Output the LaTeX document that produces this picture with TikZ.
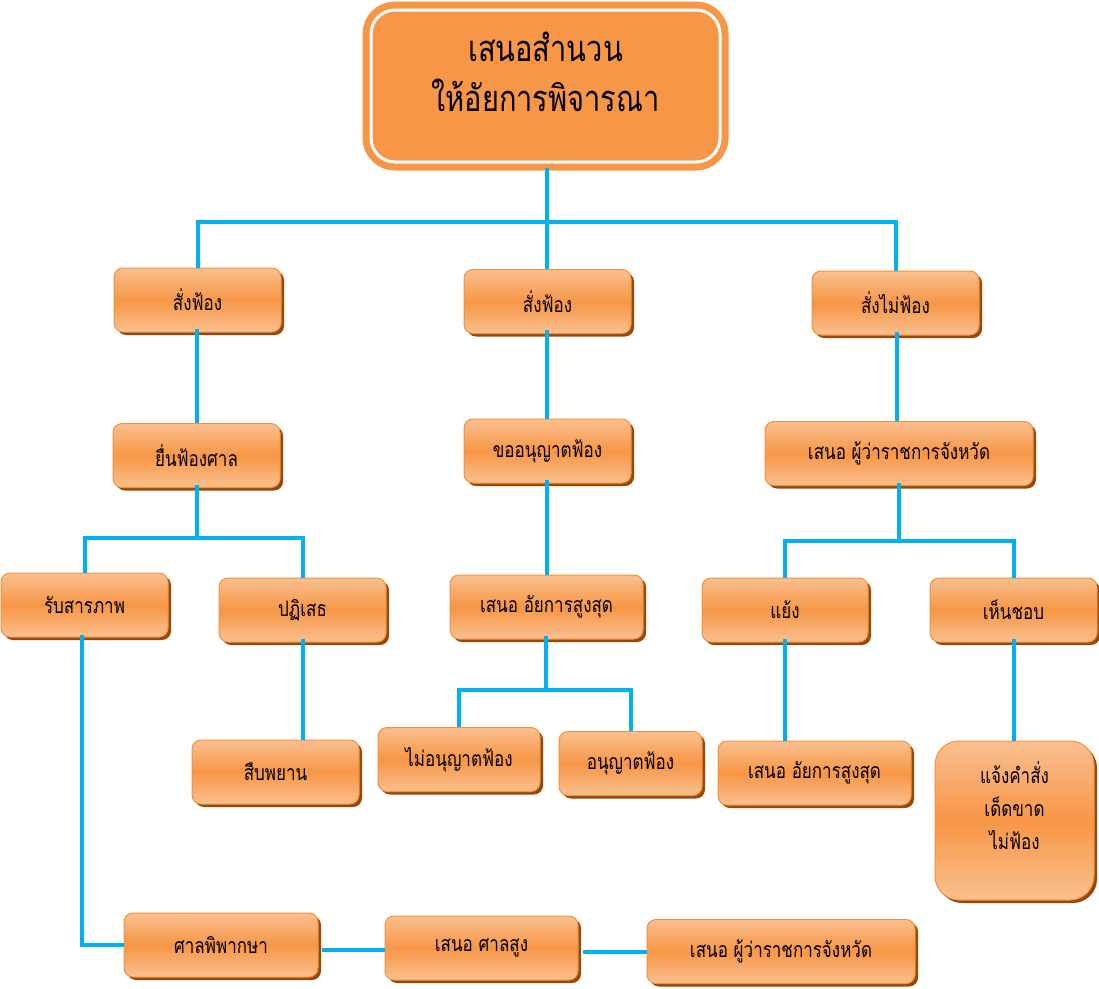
\documentclass[tikz,border=0pt]{standalone}
\usepackage{fontspec}
\setmainfont[Script=Thai]{Loma}
\usetikzlibrary{shadows,calc}
\definecolor{boxmid}{HTML}{F79646}
\definecolor{boxlight}{HTML}{FAC090}
\definecolor{boxedge}{HTML}{F0913F}
\definecolor{shadowbrown}{HTML}{984807}
\definecolor{linkblue}{HTML}{00B0F0}
\newcommand\tl[1]{\scalebox{1}[1.25]{#1}}
\begin{document}
\begin{tikzpicture}[x=1pt,y=-1pt,
  obox/.style={rectangle, rounded corners=9pt, draw=boxedge, line width=1pt,
    top color=boxlight, bottom color=boxlight, middle color=boxmid,
    drop shadow={shadow xshift=3pt, shadow yshift=-3pt, fill=shadowbrown, opacity=1},
    minimum width=#1, minimum height=64pt, inner sep=2pt, align=center,
    font=\fontsize{17}{33}\selectfont, text=black},
  obox/.default=167pt,
  link/.style={draw=linkblue, line width=4pt}]
\useasboundingbox (0,0) rectangle (1099,988);
% top node
\node[rectangle, rounded corners=24pt, draw=white, line width=3pt, fill=boxmid,
  preaction={draw=boxmid, line width=17pt},
  minimum width=349pt, minimum height=152pt, align=center, text depth=28pt,
  font=\fontsize{29}{50}\selectfont] (top) at (545.5,86) {\tl{เสนอสำนวน}\\\tl{ให้อัยการพิจารณา}};
% row 1
\node[obox] (sf1) at (197.5,300) {\tl{สั่งฟ้อง}};
\node[obox] (sf2) at (547.5,301.5) {\tl{สั่งฟ้อง}};
\node[obox] (snf) at (895.5,303) {\tl{สั่งไม่ฟ้อง}};
% row 2
\node[obox] (yfs) at (196.5,455.5) {\tl{ยื่นฟ้องศาล}};
\node[obox] (kaf) at (547.5,451) {\tl{ขออนุญาตฟ้อง}};
\node[obox=268pt] (pw1) at (899,453.5) {\tl{เสนอ ผู้ว่าราชการจังหวัด}};
% row 3
\node[obox] (rsp) at (84.5,605) {\tl{รับสารภาพ}};
\node[obox] (pts) at (302.5,610) {\tl{ปฏิเสธ}};
\node[obox=193pt] (ask1) at (546.5,607) {\tl{เสนอ อัยการสูงสุด}};
\node[obox=166pt] (yaeng) at (785,610) {\tl{แย้ง}};
\node[obox] (hcb) at (1013.5,610) {\tl{เห็นชอบ}};
% row 4
\node[obox] (sbp) at (275.5,772) {\tl{สืบพยาน}};
\node[obox=162pt] (mauf) at (459,759.5) {\tl{ไม่อนุญาตฟ้อง}};
\node[obox=143pt] (auf) at (630.5,763.5) {\tl{อนุญาตฟ้อง}};
\node[obox=193pt] (ask2) at (814.5,773) {\tl{เสนอ อัยการสูงสุด}};
\node[obox=159pt, minimum height=159pt, rounded corners=24pt, text depth=30pt] (jks) at (1014.5,820.5) {\tl{แจ้งคำสั่ง}\\\tl{เด็ดขาด}\\\tl{ไม่ฟ้อง}};
% row 5
\node[obox=194pt] (spk) at (221,945) {\tl{ศาลพิพากษา}};
\node[obox=193pt] (ssu) at (481.5,948) {\tl{เสนอ ศาลสูง}};
\node[obox=268pt] (pw2) at (781,951.5) {\tl{เสนอ ผู้ว่าราชการจังหวัด}};
% bus coordinates
\coordinate (b1) at (547,222);
\coordinate (b2) at (196.5,538);
\coordinate (b3) at (545.5,690);
\coordinate (b4) at (899,541);
% connectors
\draw[link] (top.south -| b1) ++(0,4) -- (sf2.north -| b1);
\draw[link] (sf1.north) |- (b1) -| (snf.north);
\draw[link] ([yshift=4pt]sf1.south -| yfs.north) -- (yfs.north);
\draw[link] ([yshift=4pt]sf2.south -| b1) -- (kaf.north -| b1);
\draw[link] ([yshift=4pt,xshift=1.5pt]snf.south) -- (pw1.north -| 897,0);
\draw[link] ([yshift=3pt]yfs.south) -- (yfs.south |- b2);
\draw[link] (rsp.north) |- (b2) -| (pts.north);
\draw[link] ([yshift=3pt]pw1.south) -- (pw1.south |- b4);
\draw[link] (yaeng.north) |- (b4) -| (hcb.north);
\draw[link] ([yshift=4pt]kaf.south -| b1) -- (ask1.north -| b1);
\draw[link] ([yshift=4pt]ask1.south -| b3) -- (b3);
\draw[link] (mauf.north) |- (b3) -| (auf.north);
\draw[link] ([yshift=4pt]pts.south) -- (sbp.north -| pts.south);
\draw[link] ([yshift=4pt]yaeng.south) -- (ask2.north -| yaeng.south);
\draw[link] ([yshift=4pt]hcb.south) -- (jks.north -| hcb.south);
\draw[link] ([yshift=3pt,xshift=-3pt]rsp.south) |- (spk.west);
\draw[link] ([xshift=3pt]spk.east |- 0,950) -- (ssu.west |- 0,950);
\draw[link] ([xshift=4pt]ssu.east |- 0,952) -- (pw2.west |- 0,952);
\end{tikzpicture}
\end{document}
